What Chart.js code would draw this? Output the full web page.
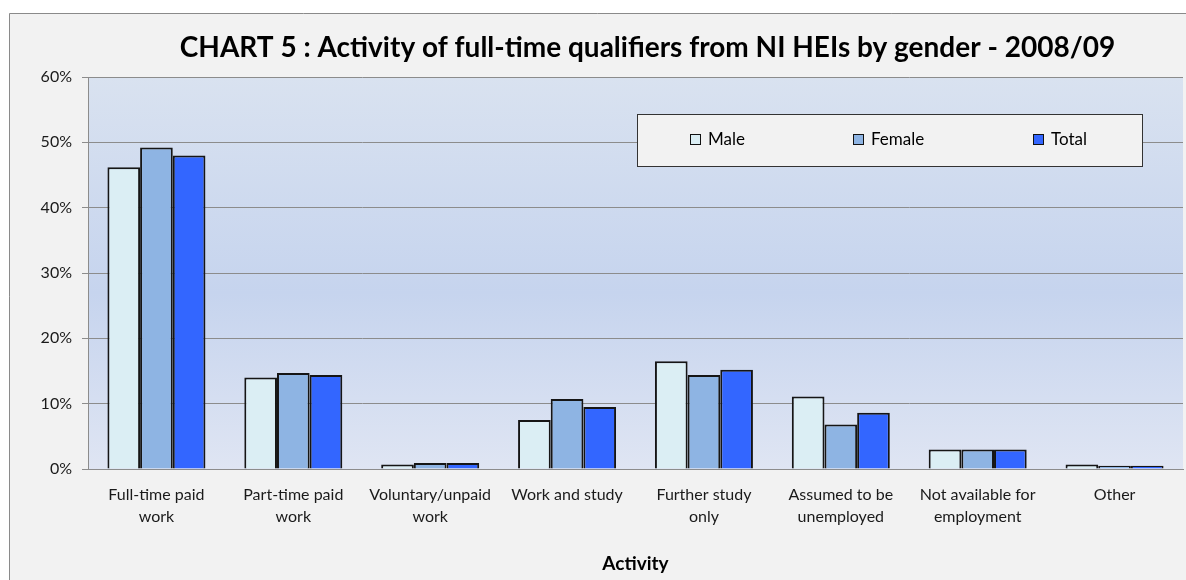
<!DOCTYPE html>
<html>
<head>
<meta charset="utf-8">
<script src="https://cdn.jsdelivr.net/npm/chart.js@4.4.1/dist/chart.umd.min.js"></script>
<style>
html,body{margin:0;padding:0;background:#ffffff;}
#wrap{width:1186px;height:580px;position:relative;}
</style>
</head>
<body>
<div id="wrap"><canvas id="c" width="1186" height="580"></canvas></div>
<script>
const chartTitle = "CHART 5 : Activity of full-time qualifiers from NI HEIs by gender - 2008/09";
const axisTitle = "Activity";
const categories = [
  ["Full-time paid", "work"],
  ["Part-time paid", "work"],
  ["Voluntary/unpaid", "work"],
  "Work and study",
  ["Further study", "only"],
  ["Assumed to be", "unemployed"],
  ["Not available for", "employment"],
  "Other"
];
const seriesNames = ["Male", "Female", "Total"];
const maleValues   = [46.2, 14.0, 0.7, 7.5, 16.5, 11.1, 3.0, 0.7];
const femaleValues = [49.2, 14.7, 0.9, 10.7, 14.4, 6.8, 3.0, 0.5];
const totalValues  = [48.0, 14.4, 0.9, 9.5, 15.2, 8.6, 3.0, 0.5];
const yTicks = [0, 10, 20, 30, 40, 50, 60];

const FONT = "Lato, 'Open Sans', 'DejaVu Sans', sans-serif";
const colors = ["#dbeef4", "#8eb4e3", "#3366ff"];

const framePlugin = {
  id: "frame",
  beforeDraw(chart) {
    const ctx = chart.ctx;
    ctx.save();
    ctx.fillStyle = "#ffffff";
    ctx.fillRect(0, 0, chart.width, chart.height);
    ctx.fillStyle = "#f2f2f2";
    ctx.fillRect(9, 13, chart.width - 9, chart.height - 13);
    ctx.strokeStyle = "#8a8a8a";
    ctx.lineWidth = 1;
    ctx.beginPath();
    ctx.moveTo(9.5, chart.height);
    ctx.lineTo(9.5, 13.5);
    ctx.lineTo(chart.width, 13.5);
    ctx.stroke();
    const a = chart.chartArea;
    const g = ctx.createLinearGradient(0, a.top, 0, a.bottom);
    g.addColorStop(0, "#d9e2f0");
    g.addColorStop(0.55, "#c6d4ee");
    g.addColorStop(1, "#dfe5f3");
    ctx.fillStyle = g;
    ctx.fillRect(a.left, a.top, a.right - a.left, a.bottom - a.top);
    ctx.fillStyle = "#000000";
    ctx.font = "bold 28px " + FONT;
    ctx.textAlign = "center";
    ctx.textBaseline = "middle";
    ctx.fillText(chartTitle, 647.5, 48);
    ctx.restore();
  }
};

const legendPlugin = {
  id: "boxLegend",
  afterDatasetsDraw(chart) {
    const ctx = chart.ctx;
    ctx.save();
    const bx = 637.5, by = 114.5, bw = 505, bh = 52;
    ctx.fillStyle = "#f2f2f2";
    ctx.fillRect(bx, by, bw, bh);
    ctx.strokeStyle = "#333333";
    ctx.lineWidth = 1;
    ctx.strokeRect(bx, by, bw, bh);
    const itemX = [690, 853, 1033];
    const cy = 140;
    ctx.font = "17px " + FONT;
    ctx.textBaseline = "middle";
    ctx.textAlign = "left";
    chart.data.datasets.forEach((ds, i) => {
      const x = itemX[i];
      ctx.fillStyle = ds.backgroundColor;
      ctx.fillRect(x + 0.5, cy - 5.5, 10, 10);
      ctx.strokeStyle = "#111111";
      ctx.strokeRect(x + 0.5, cy - 5.5, 10, 10);
      ctx.fillStyle = "#000000";
      ctx.fillText(ds.label, x + 18, cy);
    });
    ctx.restore();
  }
};

new Chart(document.getElementById("c"), {
  type: "bar",
  data: {
    labels: categories,
    datasets: [
      { label: seriesNames[0], data: maleValues, backgroundColor: colors[0] },
      { label: seriesNames[1], data: femaleValues, backgroundColor: colors[1] },
      { label: seriesNames[2], data: totalValues, backgroundColor: colors[2] }
    ]
  },
  options: {
    responsive: false,
    animation: false,
    devicePixelRatio: 1,
    layout: { padding: { left: 0, top: 77, right: 3, bottom: 0 } },
    datasets: {
      bar: {
        borderColor: "#151515",
        borderWidth: 2,
        categoryPercentage: 0.716,
        barPercentage: 1.0
      }
    },
    plugins: {
      legend: { display: false },
      title: { display: false },
      tooltip: { enabled: false }
    },
    scales: {
      x: {
        afterFit(scale) { scale.height = 111; },
        grid: { display: false, drawTicks: false },
        border: { display: true, color: "#8c8c8c" },
        ticks: {
          color: "#1a1a1a",
          font: { family: FONT, size: 16, lineHeight: 1.375 },
          padding: 15,
          maxRotation: 0,
          autoSkip: false
        },
        title: {
          display: true,
          text: axisTitle,
          color: "#000000",
          font: { family: FONT, size: 19, weight: "bold" },
          padding: { top: 0, bottom: 5 }
        }
      },
      y: {
        min: 0,
        max: 60,
        afterFit(scale) { scale.width = 88; },
        afterBuildTicks(scale) { scale.ticks = yTicks.map(v => ({ value: v })); },
        grid: { color: "#8c8c8c", lineWidth: 1, tickLength: 6, drawTicks: true },
        border: { display: true, color: "#8c8c8c" },
        ticks: {
          color: "#1a1a1a",
          font: { family: FONT, size: 16 },
          padding: 10,
          callback: v => v + "%"
        }
      }
    }
  },
  plugins: [framePlugin, legendPlugin]
});
</script>
</body>
</html>
